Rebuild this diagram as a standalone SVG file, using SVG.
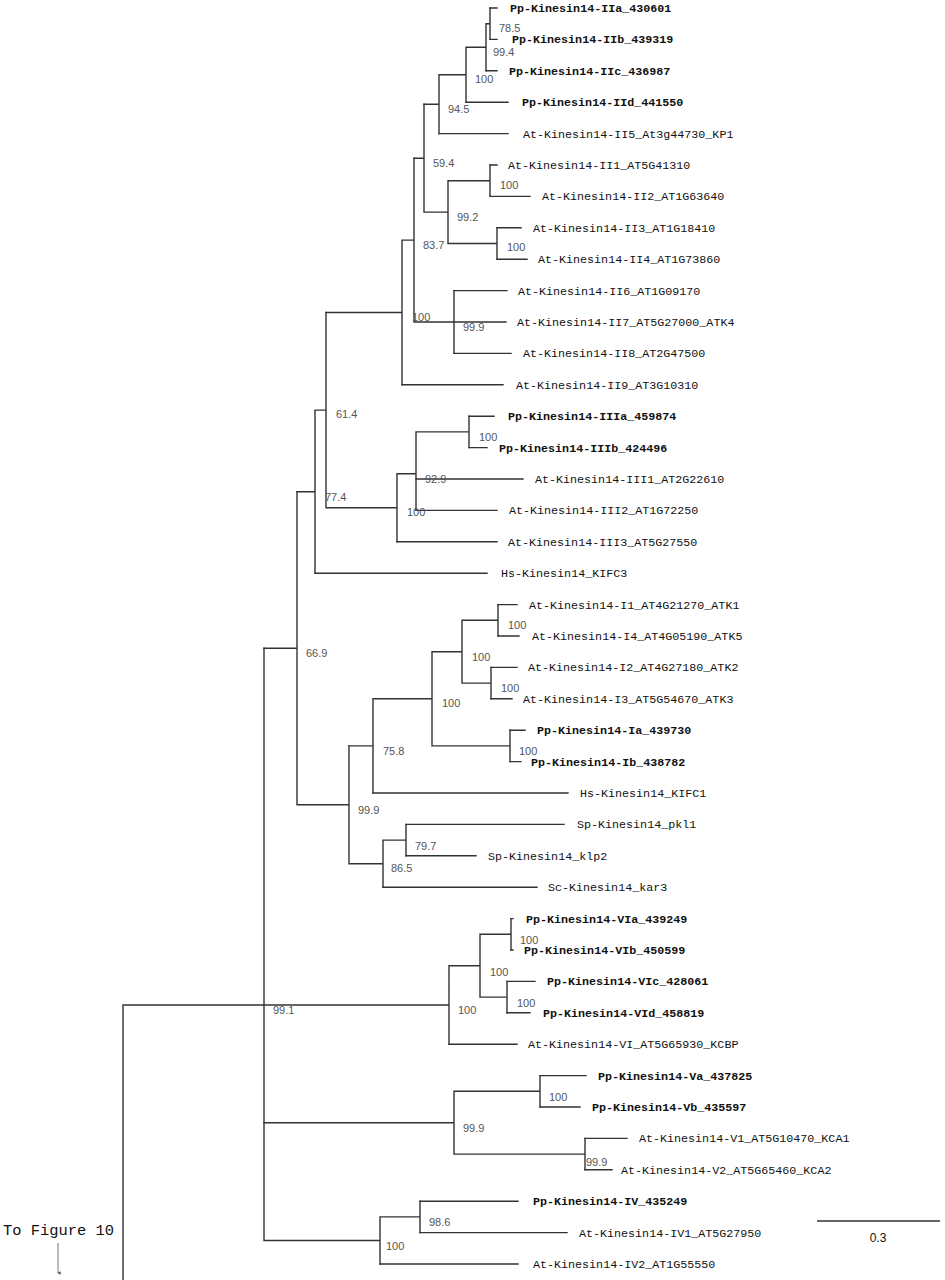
<svg xmlns="http://www.w3.org/2000/svg" width="945" height="1280" viewBox="0 0 945 1280">
<style>
.br{fill:none;stroke:#333;stroke-width:1.4;stroke-linecap:square}
.lf{font-family:"Liberation Mono","DejaVu Sans Mono",monospace;font-size:11.7px;fill:#111}
.pp{font-weight:bold}
.bs{font-family:"Liberation Sans",Arial,sans-serif;font-size:11px;fill:#555}
.note{font-family:"Liberation Mono","DejaVu Sans Mono",monospace;font-size:15.5px;fill:#111}
.sc{font-family:"Liberation Sans",Arial,sans-serif;font-size:12px;fill:#111}
</style>
<defs>
<marker id="ah" viewBox="0 0 6 6" refX="3" refY="5" markerWidth="4" markerHeight="4" orient="auto-start-reverse" markerUnits="userSpaceOnUse">
<path d="M0.5,1 L3,6 L5.5,1 Z" fill="#555"/>
</marker>
</defs>
<rect width="945" height="1280" fill="#fff"/>
<g id="connectors" class="br">
<path d="M490,8V39.4 M486,23.7H490 M486,23.7V70.8 M466,47.25H486 M466,47.25V102.2 M439,74.7H466 M439,74.7V133.6 M424,104.2H439"/>
<path d="M490,165V196.4 M448,180.7H490 M497,227.8V259.2 M448,243.5H497 M448,180.7V243.5 M424,212.1H448 M424,104.2V212.1 M414,158.2H424"/>
<path d="M454,290.6V353.4 M414,322H454 M414,158.2V322 M402,240.1H414 M402,240.1V384.8 M326,312.5H402"/>
<path d="M469,416.2V447.6 M416,431.9H469 M416,431.9V510.4 M397,473.8H416 M397,473.8V541.8 M326,507.8H397 M326,312.5V507.8 M315,410.1H326 M315,410.1V573.2 M297,491.7H315"/>
<path d="M498,604.6V636 M462,620.3H498 M491,667.4V698.8 M462,683.1H491 M462,620.3V683.1 M432,651.7H462 M510,730.2V761.6 M432,745.9H510 M432,651.7V745.9 M373,698.8H432 M373,698.8V793 M349,745.9H373"/>
<path d="M406,824.4V855.8 M383,840.1H406 M383,840.1V887.2 M349,863.7H383 M349,745.9V863.7 M297,804.8H349 M297,491.7V804.8 M264,648.3H297"/>
<path d="M511,918.6V950 M480,934.3H511 M507,981.4V1012.8 M480,997.1H507 M480,934.3V997.1 M449,965.7H480 M449,965.7V1044.2 M264,1005H449"/>
<path d="M540,1075.6V1107 M454,1091.3H540 M585,1138.4V1169.8 M454,1154.1H585 M454,1091.3V1154.1 M264,1122.7H454"/>
<path d="M420,1201.2V1232.6 M380,1216.9H420 M380,1216.9V1264 M264,1240.5H380 M264,648.3V1240.5 M123,1005H264 M123,1005V1280"/>
<path d="M490,8H497 M490,39.4H497 M486,70.8H497 M466,102.2H508 M439,133.6H508 M490,165H497 M490,196.4H530 M497,227.8H521 M497,259.2H527 M454,290.6H507 M454,322H506 M454,353.4H511 M402,384.8H503"/>
<path d="M469,416.2H494 M469,447.6H487 M416,479H523 M416,510.4H497 M397,541.8H497 M315,573.2H487"/>
<path d="M498,604.6H517 M498,636H519 M491,667.4H517 M491,698.8H512 M510,730.2H525 M510,761.6H521 M373,793H568 M406,824.4H564 M406,855.8H476 M383,887.2H537"/>
<path d="M511,918.6H513 M511,950H513 M507,981.4H535 M507,1012.8H530 M449,1044.2H517 M540,1075.6H586 M540,1107H580 M585,1138.4H627 M585,1169.8H612 M420,1201.2H518 M420,1232.6H567 M380,1264H518"/>
</g>
<g id="leaves">
<g id="leaf-IIa"><text class="lf pp" x="510" y="12">Pp-Kinesin14-IIa_430601</text></g>
<g id="leaf-IIb"><text class="lf pp" x="512" y="43.4">Pp-Kinesin14-IIb_439319</text></g>
<g id="leaf-IIc"><text class="lf pp" x="509" y="74.8">Pp-Kinesin14-IIc_436987</text></g>
<g id="leaf-IId"><text class="lf pp" x="522" y="106.2">Pp-Kinesin14-IId_441550</text></g>
<g id="leaf-II5"><text class="lf" x="523" y="137.6">At-Kinesin14-II5_At3g44730_KP1</text></g>
<g id="leaf-II1"><text class="lf" x="508" y="169">At-Kinesin14-II1_AT5G41310</text></g>
<g id="leaf-II2"><text class="lf" x="542" y="200.4">At-Kinesin14-II2_AT1G63640</text></g>
<g id="leaf-II3"><text class="lf" x="533" y="231.8">At-Kinesin14-II3_AT1G18410</text></g>
<g id="leaf-II4"><text class="lf" x="538" y="263.2">At-Kinesin14-II4_AT1G73860</text></g>
<g id="leaf-II6"><text class="lf" x="518" y="294.6">At-Kinesin14-II6_AT1G09170</text></g>
<g id="leaf-II7"><text class="lf" x="517" y="326">At-Kinesin14-II7_AT5G27000_ATK4</text></g>
<g id="leaf-II8"><text class="lf" x="523" y="357.4">At-Kinesin14-II8_AT2G47500</text></g>
<g id="leaf-II9"><text class="lf" x="516" y="388.8">At-Kinesin14-II9_AT3G10310</text></g>
<g id="leaf-IIIa"><text class="lf pp" x="508" y="420.2">Pp-Kinesin14-IIIa_459874</text></g>
<g id="leaf-IIIb"><text class="lf pp" x="499" y="451.6">Pp-Kinesin14-IIIb_424496</text></g>
<g id="leaf-III1"><text class="lf" x="535" y="483">At-Kinesin14-III1_AT2G22610</text></g>
<g id="leaf-III2"><text class="lf" x="509" y="514.4">At-Kinesin14-III2_AT1G72250</text></g>
<g id="leaf-III3"><text class="lf" x="508" y="545.8">At-Kinesin14-III3_AT5G27550</text></g>
<g id="leaf-KIFC3"><text class="lf" x="501" y="577.2">Hs-Kinesin14_KIFC3</text></g>
<g id="leaf-I1"><text class="lf" x="529" y="608.6">At-Kinesin14-I1_AT4G21270_ATK1</text></g>
<g id="leaf-I4"><text class="lf" x="532" y="640">At-Kinesin14-I4_AT4G05190_ATK5</text></g>
<g id="leaf-I2"><text class="lf" x="528" y="671.4">At-Kinesin14-I2_AT4G27180_ATK2</text></g>
<g id="leaf-I3"><text class="lf" x="523" y="702.8">At-Kinesin14-I3_AT5G54670_ATK3</text></g>
<g id="leaf-Ia"><text class="lf pp" x="537" y="734.2">Pp-Kinesin14-Ia_439730</text></g>
<g id="leaf-Ib"><text class="lf pp" x="531" y="765.6">Pp-Kinesin14-Ib_438782</text></g>
<g id="leaf-KIFC1"><text class="lf" x="580" y="797">Hs-Kinesin14_KIFC1</text></g>
<g id="leaf-pkl1"><text class="lf" x="577" y="828.4">Sp-Kinesin14_pkl1</text></g>
<g id="leaf-klp2"><text class="lf" x="488" y="859.8">Sp-Kinesin14_klp2</text></g>
<g id="leaf-kar3"><text class="lf" x="548" y="891.2">Sc-Kinesin14_kar3</text></g>
<g id="leaf-VIa"><text class="lf pp" x="526" y="922.6">Pp-Kinesin14-VIa_439249</text></g>
<g id="leaf-VIb"><text class="lf pp" x="524" y="954">Pp-Kinesin14-VIb_450599</text></g>
<g id="leaf-VIc"><text class="lf pp" x="547" y="985.4">Pp-Kinesin14-VIc_428061</text></g>
<g id="leaf-VId"><text class="lf pp" x="543" y="1016.8">Pp-Kinesin14-VId_458819</text></g>
<g id="leaf-KCBP"><text class="lf" x="528" y="1048.2">At-Kinesin14-VI_AT5G65930_KCBP</text></g>
<g id="leaf-Va"><text class="lf pp" x="598" y="1079.6">Pp-Kinesin14-Va_437825</text></g>
<g id="leaf-Vb"><text class="lf pp" x="592" y="1111">Pp-Kinesin14-Vb_435597</text></g>
<g id="leaf-V1"><text class="lf" x="639" y="1142.4">At-Kinesin14-V1_AT5G10470_KCA1</text></g>
<g id="leaf-V2"><text class="lf" x="621" y="1173.8">At-Kinesin14-V2_AT5G65460_KCA2</text></g>
<g id="leaf-IV"><text class="lf pp" x="533" y="1205.2">Pp-Kinesin14-IV_435249</text></g>
<g id="leaf-IV1"><text class="lf" x="579" y="1236.6">At-Kinesin14-IV1_AT5G27950</text></g>
<g id="leaf-IV2"><text class="lf" x="533" y="1268">At-Kinesin14-IV2_AT1G55550</text></g>
</g>
<g id="support">
<g id="n-A"><text class="bs" x="499" y="32">78.5</text></g>
<g id="n-B"><text class="bs" x="493" y="56">99.4</text></g>
<g id="n-C"><text class="bs" x="475" y="83">100</text></g>
<g id="n-D"><text class="bs" x="448" y="113">94.5</text></g>
<g id="n-E"><text class="bs" x="433" y="167">59.4</text></g>
<g id="n-F"><text class="bs" x="500" y="189">100</text></g>
<g id="n-G"><text class="bs" x="457" y="221">99.2</text></g>
<g id="n-H"><text class="bs" x="507" y="251">100</text></g>
<g id="n-I"><text class="bs" x="423" y="249">83.7</text></g>
<g id="n-K"><text class="bs" x="412" y="321">100</text></g>
<g id="n-J"><text class="bs" x="463" y="331">99.9</text></g>
<g id="n-L"><text class="bs" x="336" y="418">61.4</text></g>
<g id="n-M"><text class="bs" x="479" y="441">100</text></g>
<g id="n-N"><text class="bs" x="425" y="483">92.9</text></g>
<g id="n-P"><text class="bs" x="325" y="501">77.4</text></g>
<g id="n-O"><text class="bs" x="407" y="516">100</text></g>
<g id="n-Q"><text class="bs" x="306" y="657">66.9</text></g>
<g id="n-R"><text class="bs" x="508" y="629">100</text></g>
<g id="n-S"><text class="bs" x="472" y="661">100</text></g>
<g id="n-T"><text class="bs" x="501" y="692">100</text></g>
<g id="n-U"><text class="bs" x="442" y="707">100</text></g>
<g id="n-V"><text class="bs" x="519" y="755">100</text></g>
<g id="n-W"><text class="bs" x="383" y="755">75.8</text></g>
<g id="n-X"><text class="bs" x="358" y="814">99.9</text></g>
<g id="n-Y"><text class="bs" x="415" y="850">79.7</text></g>
<g id="n-Z"><text class="bs" x="391" y="872">86.5</text></g>
<g id="n-VIab"><text class="bs" x="520" y="944">100</text></g>
<g id="n-VIabcd"><text class="bs" x="490" y="976">100</text></g>
<g id="n-VIcd"><text class="bs" x="517" y="1007">100</text></g>
<g id="n-VI"><text class="bs" x="458" y="1014">100</text></g>
<g id="n-root2"><text class="bs" x="273" y="1014">99.1</text></g>
<g id="n-Vab"><text class="bs" x="549" y="1101">100</text></g>
<g id="n-V"><text class="bs" x="463" y="1132">99.9</text></g>
<g id="n-V12"><text class="bs" x="586" y="1166">99.9</text></g>
<g id="n-IVa"><text class="bs" x="429" y="1226">98.6</text></g>
<g id="n-IV"><text class="bs" x="386" y="1250">100</text></g>
</g>
<g id="scale-bar">
<line x1="817" y1="1221" x2="940" y2="1221" stroke="#333" stroke-width="1.4"/>
<text class="sc" x="878" y="1242" text-anchor="middle">0.3</text>
</g>
<g id="to-figure">
<text class="note" x="3" y="1235" textLength="111" lengthAdjust="spacingAndGlyphs">To Figure 10</text>
<line x1="58" y1="1243" x2="58" y2="1273" stroke="#666" stroke-width="0.9" marker-end="url(#ah)"/>
</g>
</svg>
